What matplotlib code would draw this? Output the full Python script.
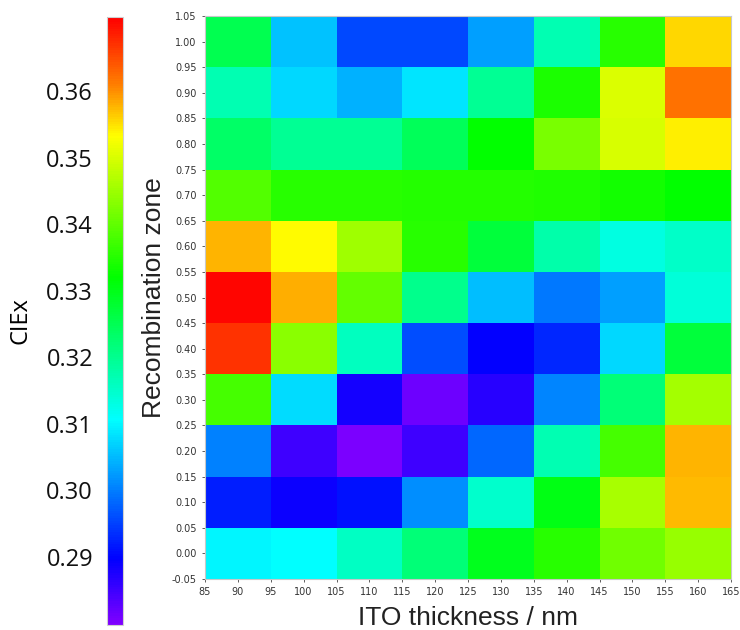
import numpy as np
import matplotlib
matplotlib.use("Agg")
import matplotlib.pyplot as plt
from matplotlib.colors import LinearSegmentedColormap, Normalize

# Data
thickness = [90, 100, 110, 120, 130, 140, 150, 160]
zone = [0.00, 0.10, 0.20, 0.30, 0.40, 0.50, 0.60, 0.70, 0.80, 0.90, 1.00]
# CIEx values, rows from zone 0.00 (bottom) to 1.00 (top)
row_000 = [0.3100, 0.3106, 0.3156, 0.3220, 0.3295, 0.3353, 0.3412, 0.3446]
row_010 = [0.2921, 0.2890, 0.2910, 0.3012, 0.3149, 0.3302, 0.3460, 0.3572]
row_020 = [0.3003, 0.2851, 0.2803, 0.2851, 0.2980, 0.3170, 0.3379, 0.3578]
row_030 = [0.3379, 0.3078, 0.2881, 0.2813, 0.2867, 0.3008, 0.3220, 0.3456]
row_040 = [0.3671, 0.3436, 0.3161, 0.2960, 0.2896, 0.2929, 0.3073, 0.3270]
row_050 = [0.3705, 0.3580, 0.3403, 0.3202, 0.3054, 0.2995, 0.3029, 0.3138]
row_060 = [0.3578, 0.3533, 0.3453, 0.3353, 0.3270, 0.3177, 0.3130, 0.3152]
row_070 = [0.3387, 0.3353, 0.3353, 0.3350, 0.3350, 0.3345, 0.3333, 0.3320]
row_080 = [0.3236, 0.3195, 0.3195, 0.3245, 0.3320, 0.3420, 0.3500, 0.3542]
row_090 = [0.3170, 0.3073, 0.3044, 0.3085, 0.3195, 0.3341, 0.3504, 0.3620]
row_100 = [0.3252, 0.3057, 0.2958, 0.2955, 0.3029, 0.3170, 0.3353, 0.3557]
cbar_ticks = [0.29, 0.30, 0.31, 0.32, 0.33, 0.34, 0.35, 0.36]

values = np.array([row_000, row_010, row_020, row_030, row_040, row_050,
                   row_060, row_070, row_080, row_090, row_100])

vmin, vmax = 0.2798, 0.3711
anchors = [(0.2798, (0.5, 0.0, 1.0)), (0.2896, (0.0, 0.0, 1.0)),
           (0.3106, (0.0, 1.0, 1.0)), (0.3320, (0.0, 1.0, 0.0)),
           (0.3533, (1.0, 1.0, 0.0)), (0.3610, (1.0, 0.5, 0.0)),
           (0.3711, (1.0, 0.0, 0.0))]
cmap = LinearSegmentedColormap.from_list(
    "cie", [((v - vmin) / (vmax - vmin), c) for v, c in anchors], N=256)
norm = Normalize(vmin=vmin, vmax=vmax)

fig = plt.figure(figsize=(7.4, 6.3), dpi=100)
ax = fig.add_axes([205 / 740, 51 / 630, 526 / 740, 563 / 630])

x_edges = np.append(np.array(thickness) - 5, thickness[-1] + 5)
y_edges = np.append(np.array(zone) - 0.05, zone[-1] + 0.05)
mesh = ax.pcolormesh(x_edges, y_edges, values, cmap=cmap, norm=norm,
                     shading="flat", edgecolors="none")

ax.set_xlim(85, 165)
ax.set_ylim(-0.05, 1.05)
ax.set_xticks(np.arange(85, 166, 5))
ax.set_yticks(np.round(np.arange(-0.05, 1.051, 0.05), 2))
ax.set_yticklabels([f"{v:.2f}" for v in np.arange(-0.05, 1.051, 0.05)])
ax.tick_params(axis="both", labelsize=7, colors="#444444", length=2.5,
               width=0.6, labelcolor="#333333")
for s in ax.spines.values():
    s.set_color("#c8c8c8")
    s.set_linewidth(0.8)

ax.set_xlabel("ITO thickness / nm", fontsize=19, family="Liberation Sans",
              color="#222222", labelpad=6)
ax.set_ylabel("Recombination zone", fontsize=19, family="Liberation Sans",
              color="#222222", labelpad=4)

cax = fig.add_axes([107 / 740, 5 / 630, 16 / 740, 608 / 630])
cb = fig.colorbar(mesh, cax=cax, ticks=cbar_ticks)
cax.yaxis.set_ticks_position("left")
cax.yaxis.set_label_position("left")
cb.ax.set_yticklabels([f"{t:.2f}" for t in cbar_ticks])
cb.ax.tick_params(length=0, pad=10, labelsize=17)
for lab in cb.ax.get_yticklabels():
    lab.set_family("Open Sans")
    lab.set_color("#111111")
cb.outline.set_edgecolor("#d0d0d0")
cb.outline.set_linewidth(0.8)
cb.set_label("CIEx", fontsize=17, family="Open Sans", labelpad=10)

fig.savefig("out.png", dpi=100)
